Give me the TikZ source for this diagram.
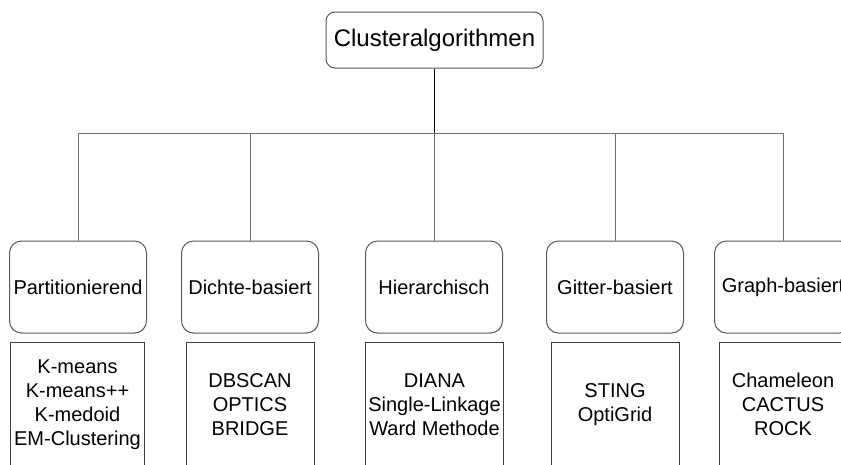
\documentclass[tikz,border=0pt]{standalone}
\usepackage{fontspec}
\setmainfont{Liberation Sans}
\usetikzlibrary{positioning}

\begin{document}
\begin{tikzpicture}
		[x=1pt,y=1pt,
		line width=1pt,
		root node/.style={draw=black!65,rounded corners=9pt,minimum width=217pt,minimum height=56pt,font=\fontsize{24}{28}\selectfont},
		class node/.style={draw=black!65,rounded corners=12pt,minimum width=137pt,minimum height=92pt,font=\fontsize{20}{24}\selectfont},
		list node/.style={draw=black!75,minimum width=128pt,minimum height=125pt,align=center,font=\fontsize{20}{24}\selectfont},
		edge/.style={draw=black!55}]
		\useasboundingbox (0,0) rectangle (841,-464);
		\clip (0,0) rectangle (841,-464);
		\def \ytop {-40}
		\def \yclass {-287}
		\def \ylist {-404.5}
		
		\coordinate (bar) at (0,-133);
		
		\node[root node] (0) at (434.5,\ytop) {Clusteralgorithmen};
		
		\node[class node] (1) at (78,\yclass) {Partitionierend};
		\node[class node] (2) at (250,\yclass) {Dichte-basiert};
		\node[class node] (3) at (434,\yclass) {Hierarchisch};
		\node[class node] (4) at (615,\yclass) {Gitter-basiert};
		\node[class node] (5) at (783,\yclass) {Graph-basiert};
		
		\node[list node] (l1) at (77.5,\ylist) {K-means\\K-means++\\K-medoid\\EM-Clustering};
		\node[list node] (l2) at (250,\ylist) {DBSCAN\\OPTICS\\BRIDGE};
		\node[list node] (l3) at (434.5,\ylist) {DIANA\\Single-Linkage\\Ward Methode};
		\node[list node] (l4) at (615,\ylist) {STING\\OptiGrid};
		\node[list node] (l5) at (783,\ylist) {Chameleon\\CACTUS\\ROCK};
		
		\draw[black] (0.south) -- (0.south |- bar);
		\draw[edge] (1.north) |- (5.north |- bar) -- (5.north);
		\draw[edge] (2.north) -- (2.north |- bar);
		\draw[edge] (3.north) -- (3.north |- bar);
		\draw[edge] (4.north) -- (4.north |- bar);
		\end{tikzpicture}
\end{document}
